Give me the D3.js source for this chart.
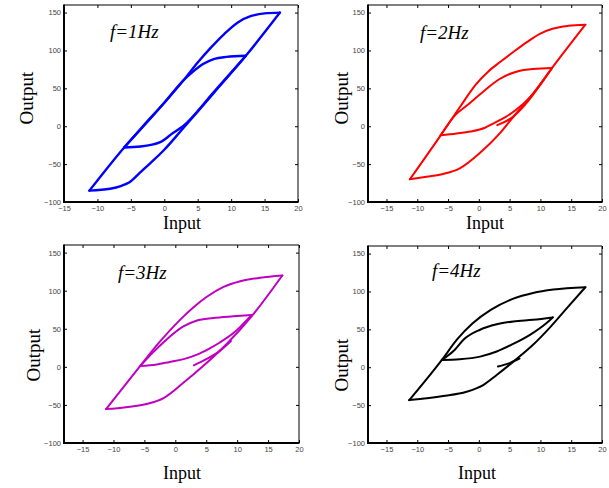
<!DOCTYPE html>
<html>
<head>
<meta charset="utf-8">
<script src="https://cdn.jsdelivr.net/npm/d3@7"></script>
<style>
  body { margin: 0; background: #fff; }
</style>
</head>
<body>
<svg id="chart" width="609" height="488"></svg>
<script>
// ticks and labels
var xTicks = [-15, -10, -5, 0, 5, 10, 15, 20];
var yTicks = [-100, -50, 0, 50, 100, 150];
var freqLabels = ["f=1Hz", "f=2Hz", "f=3Hz", "f=4Hz"];
var lineColors = ["#0000ff", "#ff0000", "#c000c0", "#000000"];

// f = 1Hz  (input, output) pairs, one array per branch
var f1Ascend = [[-11.2,-85],[-6,-28],[-3.1,1],[0,31],[3.1,63],[5,84],[7,104],[9,122],[11,137],[13,145.5],[15,149],[17.3,150]];
var f1Descend = [[17.3,150],[12.2,93],[7.5,45],[2.6,-5],[0,-31],[-2,-48],[-3.6,-61],[-5.2,-74],[-6.5,-79],[-8.1,-82.5],[-11.2,-85]];
var f1MinorUp = [[-6,-28],[-3.6,-26.8],[-0.6,-21],[1.3,-9],[2.8,0],[7.5,46],[12.2,93]];
var f1MinorDown = [[12.2,93],[9.3,91.5],[7.5,89],[5.8,82],[4.3,72],[2.8,60],[0,31],[-6,-28]];

// f = 2Hz
var f2Ascend = [[-11.2,-70],[-6.2,-12],[-3.1,25],[-0.5,55],[1.5,72],[3.5,85],[5.6,98],[7.8,111],[9.9,122],[12.1,129],[14.5,132.5],[17.3,134]];
var f2Descend = [[17.3,134],[11.9,77],[8.8,43],[5.6,12.5],[3.4,-9.4],[0.2,-35],[-3.1,-55.5],[-5.8,-63],[-8.5,-66.6],[-11.2,-70]];
var f2MinorUp = [[-6.2,-12],[-3.6,-9.5],[-1.4,-7],[1,-2],[2.4,3.8],[4.3,12],[6.1,22],[8.3,38],[11.9,77]];
var f2MinorDown = [[11.9,77],[8.8,75.5],[6.1,72],[3.3,62],[0.7,45.5],[-2,27],[-3.8,15],[-6.2,-12]];
var f2Start = [[3,1.5],[5.5,12],[8,33],[10.5,61]];

// f = 3Hz
var f3Ascend = [[-11.2,-55.5],[-8.9,-32],[-5.7,1],[-2.5,33],[0.8,62],[2.9,78],[5.1,92],[7.8,105],[10.5,112.5],[13.7,117],[17.3,120]];
var f3Descend = [[17.3,120],[12.3,66],[8.3,30],[4.5,1],[1.3,-21],[-1.9,-41],[-4.5,-48.5],[-8,-53],[-11.2,-55.5]];
var f3MinorUp = [[-5.7,1],[-3,3],[-0.9,6.5],[1.5,10.5],[3.5,16],[5.5,24],[7.2,32],[9.5,45],[12.3,68]];
var f3MinorDown = [[12.3,68],[9.4,66.3],[6.1,64],[3.4,60.5],[1.3,53],[-1.4,36],[-3.6,19],[-5.7,1]];
var f3Start = [[3,2],[5,10],[7.2,21],[9,34]];

// f = 4Hz
var f4Ascend = [[-11.3,-43.4],[-6,9.7],[-3.5,37],[-1,58],[2,76],[5.6,90.5],[8.8,98],[12.1,102.5],[17.3,105.6]];
var f4Descend = [[17.3,105.6],[14.3,78],[11.6,53],[8.8,29.6],[5.6,7.4],[2.9,-10.2],[0.7,-23.5],[-2,-32.4],[-5.8,-38.1],[-11.3,-43.4]];
var f4MinorUp = [[-6,9.7],[-3.1,10.6],[0.2,14],[2.9,20.7],[5.6,30.9],[8.3,42.8],[11,58.4],[12,65.8]];
var f4MinorDown = [[12,65.8],[8.8,62.7],[5.6,60.5],[2.9,56.7],[0.2,49.5],[-2.5,36.2],[-3.9,23],[-6,9.7]];
var f4Start = [[3.1,1],[5,5.5],[6.6,11.5]];

var branches = [
    [f1Ascend, f1Descend, f1MinorUp, f1MinorDown],
    [f2Ascend, f2Descend, f2MinorUp, f2MinorDown, f2Start],
    [f3Ascend, f3Descend, f3MinorUp, f3MinorDown, f3Start],
    [f4Ascend, f4Descend, f4MinorUp, f4MinorDown, f4Start]
];

// panel frames and label spots
var layout = [
    {l: 64, r: 298, t: 5, b: 202, xMin: -15, outX: 27, outY: 98, inX: 182, inY: 229, fx: 110, fy: 38},
    {l: 368, r: 602, t: 5, b: 202, xMin: -18, outX: 342, outY: 98, inX: 485, inY: 229, fx: 420, fy: 39},
    {l: 64, r: 299, t: 245, b: 443, xMin: -18, outX: 34, outY: 355, inX: 182, inY: 479, fx: 118, fy: 279},
    {l: 368, r: 602, t: 246, b: 443, xMin: -18, outX: 342, outY: 365, inX: 477, inY: 479, fx: 432, fy: 277}
];

var svg = d3.select("#chart");
var serif = "'Liberation Serif', 'Times New Roman', serif";

layout.forEach(function (p, i) {
    var x = d3.scaleLinear().domain([p.xMin, 20]).range([p.l, p.r]);
    var y = d3.scaleLinear().domain([-100, 160]).range([p.b, p.t]);
    var g = svg.append("g");

    // each branch is single valued in x, so sort it and draw a monotone curve
    var line = d3.line()
        .x(function (d) { return x(d[0]); })
        .y(function (d) { return y(d[1]); })
        .curve(d3.curveMonotoneX);
    g.selectAll("path.loop").data(branches[i]).enter().append("path")
        .attr("class", "loop")
        .attr("d", function (b) {
            return line(b.slice().sort(function (a, c) { return a[0] - c[0]; }));
        })
        .attr("fill", "none")
        .attr("stroke", lineColors[i])
        .attr("stroke-width", i == 0 ? 2.4 : 2)
        .attr("stroke-linejoin", "round")
        .attr("stroke-linecap", "round");

    // axes with inward ticks
    var xb = g.append("g").attr("transform", "translate(0," + p.b + ")")
        .call(d3.axisBottom(x).tickValues(xTicks).tickSize(-3).tickPadding(4));
    var yl = g.append("g").attr("transform", "translate(" + p.l + ",0)")
        .call(d3.axisLeft(y).tickValues(yTicks).tickSize(-3).tickPadding(3));
    g.append("g").attr("transform", "translate(0," + p.t + ")")
        .call(d3.axisTop(x).tickValues(xTicks).tickSize(-3).tickFormat(""));
    g.append("g").attr("transform", "translate(" + p.r + ",0)")
        .call(d3.axisRight(y).tickValues(yTicks).tickSize(-3).tickFormat(""));

    g.selectAll(".domain").remove();
    g.selectAll(".tick line").attr("stroke", "#000");
    [xb, yl].forEach(function (a) {
        a.selectAll("text")
            .attr("fill", "#444")
            .style("font-family", "'Liberation Sans', Arial, sans-serif")
            .style("font-size", "7.5px");
    });

    // frame: heavier left and bottom
    g.append("line").attr("x1", p.l).attr("x2", p.r).attr("y1", p.t).attr("y2", p.t)
        .attr("stroke", "#000").attr("stroke-width", 1);
    g.append("line").attr("x1", p.r).attr("x2", p.r).attr("y1", p.t).attr("y2", p.b)
        .attr("stroke", "#000").attr("stroke-width", 1);
    g.append("line").attr("x1", p.l).attr("x2", p.r + 0.5).attr("y1", p.b).attr("y2", p.b)
        .attr("stroke", "#000").attr("stroke-width", 2);
    g.append("line").attr("x1", p.l).attr("x2", p.l).attr("y1", p.t - 0.5).attr("y2", p.b + 1)
        .attr("stroke", "#000").attr("stroke-width", 2);

    // labels
    g.append("text").text("Input")
        .attr("x", p.inX).attr("y", p.inY)
        .attr("text-anchor", "middle")
        .style("font-family", serif)
        .style("font-size", "18px");
    g.append("text").text("Output")
        .attr("transform", "translate(" + (p.outX + 6) + "," + p.outY + ") rotate(-90)")
        .attr("text-anchor", "middle")
        .style("font-family", serif)
        .style("font-size", "19px");
    g.append("text").text(freqLabels[i])
        .attr("x", p.fx).attr("y", p.fy)
        .style("font-family", serif)
        .style("font-style", "italic")
        .style("font-size", "19px");
});
</script>
</body>
</html>
